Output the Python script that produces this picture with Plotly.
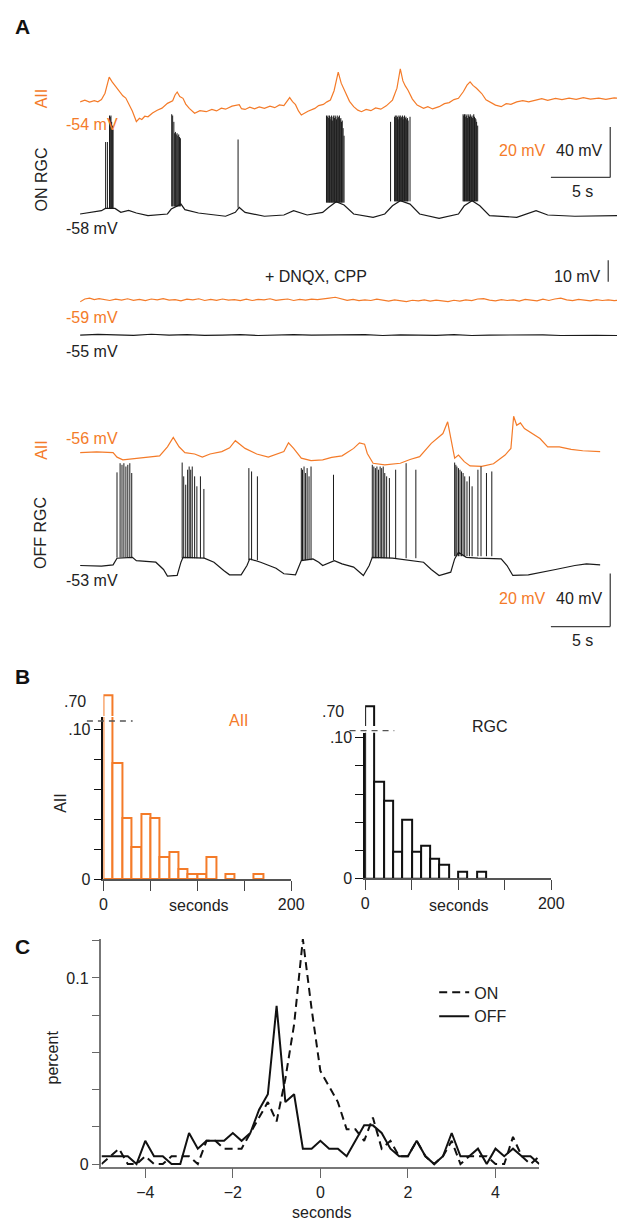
import plotly.graph_objects as go

W, H = 625, 1225
ORANGE = '#F47B29'
FONT = 'Liberation Sans, Arial, sans-serif'

# ---------------- Panel A data (time in s, membrane potential in mV) ----------------
# Control: AII amacrine (orange) and ON RGC (black)
on_aii_t = [0, 0.4, 0.8, 1.2, 1.5, 1.8, 2.1, 2.45, 2.7, 2.9, 3.1, 3.35, 3.6, 3.85, 4.09, 4.4,
            4.74, 5.0, 5.2, 5.45, 5.72, 6.1, 6.5, 6.9, 7.36, 7.8, 8.0, 8.18, 8.4, 8.67, 8.9,
            9.2, 9.65, 10.1, 10.63, 11.1, 11.5, 11.9, 12.26, 12.8, 13.41, 13.6, 13.9, 14.3,
            14.7, 15.1, 15.53, 16.0, 16.4, 16.8, 17.17, 17.45, 17.66, 17.9, 18.15, 18.4, 18.64,
            19.2, 19.78, 20.1, 20.5, 20.8, 21.09, 21.4, 21.75, 22.0, 22.2, 22.4, 22.7, 23.05,
            23.4, 23.71, 24.1, 24.5, 24.9, 25.34, 25.8, 26.32, 26.7, 26.98, 27.2, 27.4, 27.63,
            28.0, 28.4, 28.94, 29.3, 29.7, 30.25, 30.7, 31.1, 31.5, 31.88, 32.3, 32.6, 32.86,
            33.1, 33.4, 33.84, 34.2, 34.6, 35.0, 35.48, 35.9, 36.3, 36.79, 37.3, 37.8, 38.4,
            38.9, 39.4, 40.06, 40.6, 41.2, 41.8, 42.4, 43.0, 43.7, 44.3, 45.0, 45.5]
on_aii_mv = [-53.9, -53.2, -54.0, -53.4, -53.9, -53.0, -50.5, -44.1, -46.0, -47.2, -48.6,
             -49.8, -51.5, -52.4, -54.5, -57.5, -61.7, -60.4, -60.9, -59.6, -59.8, -58.3,
             -57.2, -56.4, -54.5, -53.5, -51.2, -50.0, -51.8, -52.5, -54.8, -56.5, -58.4,
             -57.4, -57.8, -56.9, -57.5, -56.4, -56.8, -55.6, -55.0, -56.6, -56.9, -56.0,
             -56.7, -55.9, -56.5, -55.6, -56.2, -55.1, -55.4, -53.5, -52.2, -53.8, -55.0,
             -57.5, -59.1, -57.6, -56.5, -55.4, -54.9, -53.9, -53.2, -49.5, -42.1, -46.5,
             -48.6, -50.6, -53.7, -55.8, -57.2, -57.8, -56.9, -57.4, -56.3, -56.8, -55.5,
             -53.2, -48.5, -40.8, -45.6, -47.6, -49.3, -52.8, -55.2, -56.5, -55.8, -56.7,
             -55.8, -54.6, -54.2, -53.0, -52.5, -49.8, -47.3, -46.0, -47.4, -48.5, -50.6,
             -53.1, -54.0, -55.2, -55.8, -54.6, -54.9, -53.9, -53.4, -53.9, -53.2, -52.6,
             -53.3, -52.5, -53.0, -52.4, -52.9, -52.2, -52.8, -52.4, -52.9, -52.3, -52.6]

on_rgc_t = [0, 1.8, 2.13, 2.94, 3.43, 4.09, 4.74, 5.72, 7.36, 7.68, 8.5, 8.83, 9.97, 12.26,
            13.08, 13.41, 13.9, 15.53, 17.17, 17.99, 19.13, 20.44, 20.93, 21.58, 22.24, 23.05,
            24.69, 25.67, 26.32, 26.98, 27.8, 28.61, 30.25, 31.88, 32.37, 33.03, 33.68, 34.5,
            36.79, 38.42, 39.4, 41.69, 45.5]
on_rgc_mv = [-58, -55.4, -53.6, -53.6, -56.7, -55.2, -57.2, -59.3, -58, -54.1, -50.2, -54.6,
             -57.2, -59.8, -56.7, -52.8, -56.7, -59.8, -58.8, -55.4, -58.8, -56.7, -52.8, -48.3,
             -50.9, -58, -60.6, -58, -51.5, -47.5, -50.2, -58, -61.4, -58, -51.5, -47.5, -51.5,
             -59.3, -60.6, -55.4, -58.8, -59.8, -59.3]

on_spk_t = [2.15, 2.3, 2.48, 2.54, 2.6, 2.66, 2.72, 2.78,
            7.72, 7.8, 7.9, 7.97, 8.03, 8.1, 8.17, 8.24, 8.31, 8.38, 8.45,
            13.31,
            20.76, 20.83, 20.89, 20.95, 21.01, 21.07, 21.13, 21.19, 21.25, 21.31, 21.37, 21.43,
            21.49, 21.55, 21.61, 21.67, 21.73, 21.79, 21.85, 21.91, 21.97, 22.03, 22.09, 22.16, 22.24,
            26.16, 26.5, 26.56, 26.62, 26.68, 26.74, 26.8, 26.86, 26.92, 26.98, 27.04, 27.1,
            27.16, 27.22, 27.28, 27.34, 27.4, 27.46, 27.52, 27.58, 27.64, 27.8,
            32.27, 32.33, 32.39, 32.45, 32.51, 32.57, 32.63, 32.69, 32.75, 32.81, 32.87,
            32.93, 32.99, 33.05, 33.11, 33.17, 33.23, 33.29, 33.35, 33.41, 33.5]
on_spk_peak = [-1, -1, 20, 19, 20, 15, 12, 9,
               21, 20, 15, 6, 7, 5, 6, 4, 5, 3, 2,
               1,
               20, 19, 20, 18, 20, 17, 19, 20, 16, 19, 20, 18,
               20, 19, 17, 20, 18, 19, 20, 17, 18, 15, 16, 10, 4,
               15, 19, 20, 18, 20, 19, 17, 20, 19, 20, 18, 19,
               20, 17, 19, 20, 18, 19, 17, 18, 16, 19,
               21, 20, 21, 19, 21, 20, 18, 21, 20, 19, 21,
               20, 19, 18, 20, 21, 19, 18, 17, 15, 12]
on_spk_base = [-54] * 8 + [-52] * 11 + [-53] + [-49] * 25 + [-48] * 22 + [-48] * 21

# + DNQX, CPP
dnqx_aii_t = [0, 0.4, 0.8, 1.2, 1.6, 2.0, 2.5, 3.0, 3.5, 4.0, 4.5, 5.0, 5.5, 6.0, 6.5, 7.0,
              7.5, 8.0, 8.5, 9.0, 9.5, 10.0, 10.5, 11.0, 11.5, 12.0, 12.5, 13.0, 13.5, 14.0,
              14.5, 15.0, 15.5, 16.0, 16.5, 17.0, 17.5, 18.0, 18.5, 19.0, 19.5, 20.0, 20.5,
              21.0, 21.5, 22.0, 22.5, 23.0, 23.5, 24.0, 24.5, 25.0, 25.5, 26.0, 26.5, 27.0,
              27.5, 28.0, 28.5, 29.0, 29.5, 30.0, 30.5, 31.0, 31.5, 32.0, 32.5, 33.0, 33.5,
              34.0, 34.5, 35.0, 35.5, 36.0, 36.5, 37.0, 37.5, 38.0, 38.5, 39.0, 39.5, 40.0,
              40.5, 41.0, 41.5, 42.0, 42.5, 43.0, 43.5, 44.0, 44.5, 45.0, 45.5]
dnqx_aii_mv = [-59.9, -58.6, -58.2, -58.9, -58.4, -58.8, -59.3, -58.7, -59.1, -58.5,
               -59.2, -58.8, -59.4, -58.6, -59.0, -58.4, -59.1, -58.9, -59.5, -58.7,
               -59.0, -58.5, -59.3, -58.8, -59.2, -58.6, -59.1, -58.9, -59.4, -58.7,
               -59.3, -58.8, -59.0, -58.5, -59.2, -58.9, -58.6, -59.3, -58.8, -59.1,
               -58.7, -58.9, -58.4, -58.2, -57.8, -58.6, -59.2, -58.8, -59.4, -59.0,
               -59.3, -58.7, -59.1, -59.6, -59.0, -59.4, -59.8, -59.2, -59.5, -59.0,
               -59.6, -59.1, -59.5, -59.8, -59.2, -59.6, -59.0, -59.4, -58.6, -58.4,
               -59.1, -59.5, -58.9, -59.3, -59.0, -59.6, -58.8, -59.2, -59.5, -58.7,
               -59.3, -58.6, -58.2, -59.0, -59.4, -58.8, -59.2, -59.5, -58.9, -59.3,
               -59.0, -59.4, -59.1]
dnqx_rgc_t = [0, 1.5, 3, 4.5, 6, 7.5, 9, 10.5, 12, 13.5, 15, 16.5, 18, 19.5, 21, 22.5, 24,
              25.5, 27, 28.5, 30, 31.5, 33, 34.5, 36, 37.5, 39, 40.5, 42, 43.5, 45.5]
dnqx_rgc_mv = [-55.0, -54.7, -54.9, -55.1, -54.6, -55.0, -54.8, -55.1, -55.0, -54.8, -55.2,
               -54.9, -54.8, -55.0, -54.9, -55.1, -54.8, -55.2, -54.9, -55.0, -55.1, -54.8,
               -55.2, -55.0, -54.9, -55.1, -54.9, -55.2, -55.0, -55.1, -55.2]

# AII (orange) and OFF RGC (black)
off_aii_t = [0, 1.4, 2.78, 3.11, 3.6, 4.3, 5.07, 5.9, 6.7, 7.36, 7.85, 8.34, 8.83, 9.65, 10.3,
             10.95, 11.94, 12.6, 13.08, 13.9, 14.88, 15.86, 16.5, 17.17, 17.56, 17.99, 18.64,
             19.46, 20.44, 21.2, 22.07, 23.05, 23.54, 23.97, 24.2, 24.69, 25.67, 26.3, 26.98,
             27.8, 28.61, 29.59, 30.57, 30.97, 31.29, 31.56, 31.88, 32.37, 32.86, 33.84,
             34.83, 35.81, 36.3, 36.53, 36.79, 37.1, 37.44, 38.1, 38.75, 39.4, 40.38, 41.37,
             42.35, 43.82]
off_aii_mv = [-56, -55.7, -56, -57.7, -58.7, -58.3, -58.1, -57.6, -57.2, -53.8, -50.3, -53.8,
              -56, -56.5, -57.7, -56.5, -55.6, -54.2, -51.5, -54.4, -56.5, -57.7, -56.8, -55.6,
              -52.3, -54.4, -58.1, -59, -58.7, -57.8, -57.2, -54.4, -52.3, -52.8, -56.3, -60,
              -60.6, -60.2, -60, -58.6, -57.5, -52.5, -48.8, -44.4, -52.5, -58.1, -56.9,
              -59.4, -61, -61.2, -60.2, -56.9, -54.4, -42.3, -45.7, -44.8, -46.9, -48.8,
              -50.7, -53.8, -53.8, -54.8, -55.3, -55.6]

off_rgc_t = [0, 1.8, 2.78, 3.11, 4.41, 4.74, 6.38, 7.03, 7.36, 8.18, 8.5, 8.67, 10.46, 11.28,
             12.1, 12.59, 13.57, 14.06, 14.29, 15.21, 16.51, 17.17, 18.15, 18.64, 19.62, 20.11,
             20.44, 21.42, 22.07, 23.05, 23.87, 24.36, 24.62, 26.32, 28.94, 29.59, 30.25, 31.23,
             31.56, 31.88, 32.54, 33.52, 35.48, 35.97, 36.46, 37.77, 40.06, 41.69, 42.67, 43.82]
off_rgc_mv = [-53, -53.5, -52.5, -47.5, -46.8, -49.3, -50.5, -56, -61, -60.5, -50.5, -46.8,
              -47.5, -50.5, -56.7, -60, -60, -53, -48, -50.5, -55, -59.2, -60, -49.3, -48, -50.5,
              -53, -49.3, -51.8, -54.2, -60.5, -53, -46.8, -47.5, -50.5, -56, -60.5, -58, -48,
              -43, -46.8, -47.5, -48, -53, -60.5, -60, -56, -53, -51.8, -52.5]

off_spk_t = [3.11, 3.37, 3.53, 3.69, 3.86, 4.02, 4.19, 4.35,
             8.6, 8.73, 8.9, 9.06, 9.19, 9.32, 9.45, 9.65, 9.84, 10.14, 10.43,
             14.22, 14.45, 14.94,
             18.64, 18.74, 18.87, 19.0, 19.13, 19.29, 19.46, 21.35,
             24.62, 24.75, 24.88, 25.01, 25.14, 25.28, 25.41, 25.54, 25.67, 25.83, 26.06,
             26.59, 27.47, 28.29,
             31.56, 31.66, 31.75, 31.88, 32.01, 32.14, 32.27, 32.41, 32.6, 32.8, 33.03,
             33.52, 33.78, 34.24, 34.69]
off_spk_peak = [17.2, 24.1, 22.9, 24.1, 21.6, 22.9, 24.1, 16.7,
                24.6, 14.2, 7.9, 19.2, 21.6, 19.2, 21.6, 14.2, 6.7, 14.2, 4.7,
                20.4, 17.9, 14.2,
                20.4, 19.2, 21.6, 16.7, 20.4, 14.2, 21.6, 15.4,
                22.9, 21.6, 20.4, 21.6, 19.2, 21.6, 20.4, 21.6, 16.7, 14.2, 12.9,
                19.2, 24.1, 19.2,
                24.6, 22.9, 21.6, 20.4, 19.2, 17.9, 16.7, 14.2, 10.4, 14.2, 6.7,
                19.2, 21.6, 16.7, 17.9]
off_spk_base = [-47] * 8 + [-47.5] * 11 + [-49] * 3 + [-49] * 8 + [-47.5] * 14 + [-46] * 15

# ---------------- Panel B data (inter-event interval histograms) ----------------
bin_centers = [5, 15, 25, 35, 45, 55, 65, 75, 85, 95, 105, 115, 125, 135, 145, 155, 165]
aii_freq = [0.70, 0.078, 0.041, 0.022, 0.044, 0.041, 0.015, 0.018, 0.007, 0.0033, 0.0033,
            0.015, 0, 0.0033, 0, 0, 0.0033]
rgc_freq = [0.70, 0.0687, 0.0551, 0.0186, 0.0416, 0.0186, 0.0233, 0.0139, 0.0094, 0, 0.0047,
            0, 0.0047, 0, 0, 0, 0]

# ---------------- Panel C data (cross-correlation) ----------------
lag_s = [-5.0, -4.8, -4.6, -4.4, -4.2, -4.0, -3.8, -3.6, -3.4, -3.2, -3.0, -2.8, -2.6, -2.4,
         -2.2, -2.0, -1.8, -1.6, -1.4, -1.2, -1.0, -0.8, -0.6, -0.4, -0.2, 0.0, 0.2, 0.4, 0.6,
         0.8, 1.0, 1.2, 1.4, 1.6, 1.8, 2.0, 2.2, 2.4, 2.6, 2.8, 3.0, 3.2, 3.4, 3.6, 3.8, 4.0,
         4.2, 4.4, 4.6, 4.8, 5.0]
on_pct = [0, 0.0042, 0.0083, 0, 0, 0.0042, 0, 0, 0.0042, 0.0042,
          0.0042, 0, 0.0125, 0.0125, 0.0083, 0.0083, 0.0083, 0.0167, 0.025, 0.0333,
          0.0229, 0.0458, 0.075, 0.1208, 0.0833, 0.05, 0.0417, 0.0333, 0.0187, 0.0187,
          0.0125, 0.025, 0.0083, 0.0125, 0.0042, 0.0042, 0.0125, 0.0042, 0, 0.0042,
          0.0125, 0, 0.0042, 0.0042, 0.0042, 0, 0, 0.0146, 0.0042, 0,
          0.0042]
off_pct = [0.0042, 0.0042, 0.0042, 0.0042, 0, 0.0125, 0.0042, 0.0042, 0, 0,
           0.0167, 0.0083, 0.0125, 0.0125, 0.0125, 0.0167, 0.0125, 0.0167, 0.0292, 0.0375,
           0.085, 0.0333, 0.0375, 0.0083, 0.0083, 0.0125, 0.0083, 0.0083, 0.0042, 0.0125,
           0.0208, 0.0208, 0.0167, 0.0083, 0.0042, 0.0042, 0.0125, 0.0042, 0, 0.0042,
           0.0167, 0.0042, 0.0042, 0.0083, 0, 0.0083, 0.0042, 0.0083, 0.0042, 0.0042,
           0]

# ---------------- figure ----------------
fig = go.Figure()
layout = {}


def ref(n):
    return ('x' if n == 1 else f'x{n}'), ('y' if n == 1 else f'y{n}')


def axes(n, left, right, top, bottom, xr, yr, xkw=None, ykw=None):
    kx = 'xaxis' if n == 1 else f'xaxis{n}'
    ky = 'yaxis' if n == 1 else f'yaxis{n}'
    xr_, yr_ = ref(n)
    base = dict(showgrid=False, zeroline=False, fixedrange=True)
    xd = dict(base, domain=[left / W, right / W], range=xr, anchor=yr_, visible=False)
    yd = dict(base, domain=[1 - bottom / H, 1 - top / H], range=yr, anchor=xr_, visible=False)
    if xkw:
        xd.update(xkw)
    if ykw:
        yd.update(ykw)
    layout[kx] = xd
    layout[ky] = yd


def yrange(top, bottom, p0, v0, k):
    return [v0 - (bottom - p0) / k, v0 + (p0 - top) / k]


T0, TS = 70, 12.2  # pixel of t=0, pixels per second
TR = [0, (625 - T0) / TS]

axes(1, 70, 625, 40, 125, TR, yrange(40, 125, 92, -54, 2.55))
axes(2, 70, 625, 95, 215, TR, yrange(95, 215, 205, -58, 1.275))
axes(3, 70, 625, 245, 305, TR, yrange(245, 305, 291.7, -59, 2.16))
axes(4, 70, 625, 315, 340, TR, yrange(315, 340, 327.3, -55, 2.16))
axes(5, 70, 625, 395, 470, TR, yrange(395, 470, 446, -56, 2.68))
axes(6, 70, 625, 440, 630, TR, yrange(440, 630, 560, -53, 1.34))


def spikes(ts, peaks, bases):
    xs, ys = [], []
    for t, p, b in zip(ts, peaks, bases):
        xs += [t, t, None]
        ys += [b, p, None]
    return xs, ys


def line(n, x, y, color, width=1.0, **kw):
    xr_, yr_ = ref(n)
    fig.add_trace(go.Scatter(x=x, y=y, mode='lines', xaxis=xr_, yaxis=yr_,
                             line=dict(color=color, width=width), showlegend=False,
                             hoverinfo='skip', **kw))


line(1, on_aii_t, on_aii_mv, ORANGE, 1.2)
line(2, on_rgc_t, on_rgc_mv, '#1a1a1a', 1.2)
sx, sy = spikes(on_spk_t, on_spk_peak, on_spk_base)
line(2, sx, sy, '#1a1a1a', 1.0)
line(3, dnqx_aii_t, dnqx_aii_mv, ORANGE, 1.2)
line(4, dnqx_rgc_t, dnqx_rgc_mv, '#1a1a1a', 1.2)
line(5, off_aii_t, off_aii_mv, ORANGE, 1.2)
line(6, off_rgc_t, off_rgc_mv, '#1a1a1a', 1.2)
sx, sy = spikes(off_spk_t, off_spk_peak, off_spk_base)
line(6, sx, sy, '#1a1a1a', 1.0)

shapes = []


def scalebar(n, t0, t1, v0, v1):
    xr_, yr_ = ref(n)
    if t1 != t0:
        shapes.append(dict(type='line', xref=xr_, yref=yr_, x0=t0, x1=t1, y0=v0, y1=v0,
                           line=dict(color='#444', width=1.3)))
    if v1 != v0:
        shapes.append(dict(type='line', xref=xr_, yref=yr_, x0=t1, x1=t1, y0=v0, y1=v1,
                           line=dict(color='#444', width=1.3)))


scalebar(2, 39.67, 44.67, -29, 11)       # 5 s / 40 mV
scalebar(3, 44.5, 44.5, -50.5, -40.5)    # 10 mV
scalebar(6, 39.67, 44.67, -99, -59)      # 5 s / 40 mV

# ---------------- Panel B axes ----------------
tickfont = dict(size=16, color='#222', family=FONT)
yb = dict(visible=True, showline=True, linecolor='#111', linewidth=1.5, ticks='outside',
          ticklen=8, tickwidth=1.3, tickcolor='#111',
          tickvals=[0, 0.02, 0.04, 0.06, 0.08, 0.10],
          ticktext=['0', '', '', '', '', '.10'], tickfont=tickfont)
xb = dict(visible=True, showline=True, linecolor='#555', linewidth=1.5, ticks='outside',
          ticklen=10, tickwidth=1.3, tickcolor='#444',
          tickvals=[0, 50, 100, 150, 200], ticktext=['0', '', '', '', '200'], tickfont=tickfont)

axes(7, 94, 287, 713, 877, [0, 200], [0, (877 - 713) / 1510], xkw=xb, ykw=yb)
axes(8, 94, 287, 689, 712, [0, 200], [0.70 - 21 / 1000, 0.70 + 2 / 1000])
axes(9, 363, 554.3, 729, 876, [0, 200], [0, (876 - 729) / 1420], xkw=xb, ykw=yb)
axes(10, 363, 554.3, 700, 722, [0, 200], [0.70 - 19.7 / 1000, 0.70 + 2.3 / 1000])


def nz(v):
    return [None if a == 0 else a for a in v]


for n, vals, col in [(7, aii_freq, ORANGE), (8, aii_freq, ORANGE),
                     (9, rgc_freq, '#111'), (10, rgc_freq, '#111')]:
    xr_, yr_ = ref(n)
    fig.add_trace(go.Bar(x=bin_centers, y=nz(vals), width=10, xaxis=xr_, yaxis=yr_,
                         marker=dict(color='white', line=dict(color=col, width=2)),
                         showlegend=False, hoverinfo='skip'))

# axis-break dashes
for x0, x1, y in [(77, 124, 717), (347, 393, 726.7)]:
    shapes.append(dict(type='line', xref='paper', yref='paper', x0=x0 / W, x1=x1 / W,
                       y0=1 - y / H, y1=1 - y / H,
                       line=dict(color='#555', width=1.3, dash='6px,5px')))

# ---------------- Panel C ----------------
xc = dict(visible=True, showline=True, linecolor='#777', linewidth=1.5, ticks='outside',
          ticklen=10, tickwidth=1.3, tickcolor='#666', tickvals=[-4, -2, 0, 2, 4],
          tickfont=tickfont)
yc = dict(visible=True, showline=True, linecolor='#777', linewidth=1.5, ticks='outside',
          ticklen=8, tickwidth=1.3, tickcolor='#666',
          tickvals=[0, 0.02, 0.04, 0.06, 0.08, 0.10, 0.12],
          ticktext=['0', '', '', '', '', '0.1', ''], tickfont=tickfont)
axes(11, 92, 542, 937, 1167, [-5, 5], yrange(937, 1167, 1164.5, 0, 1880), xkw=xc, ykw=yc)

fig.add_trace(go.Scatter(x=lag_s, y=on_pct, mode='lines', name='ON', xaxis='x11', yaxis='y11',
                         line=dict(color='#111', width=2, dash='8px,5px'), cliponaxis=False,
                         hoverinfo='skip'))
fig.add_trace(go.Scatter(x=lag_s, y=off_pct, mode='lines', name='OFF', xaxis='x11',
                         yaxis='y11', line=dict(color='#111', width=2), cliponaxis=False,
                         hoverinfo='skip'))

# ---------------- text ----------------
anns = []


def ann(text, x, y, color='#222', size=16, angle=0, bold=False, xanchor='center'):
    anns.append(dict(text=f'<b>{text}</b>' if bold else text, x=x / W, y=1 - y / H,
                     xref='paper', yref='paper', showarrow=False, textangle=angle,
                     xanchor=xanchor, yanchor='middle',
                     font=dict(family=FONT, size=size, color=color)))


ann('A', 11, 16, '#111', 21, bold=True)
ann('AII', 30, 88, ORANGE, 16, -90)
ann('-54 mV', 82, 115, ORANGE)
ann('ON RGC', 30, 170, '#222', 16, -90)
ann('-58 mV', 82, 220)
ann('20 mV', 525, 141, ORANGE)
ann('40 mV', 583, 141)
ann('5 s', 586, 182)
ann('+ DNQX, CPP', 313, 268)
ann('10 mV', 581, 268)
ann('-59 mV', 82, 310, ORANGE)
ann('-55 mV', 82, 344)
ann('AII', 30, 443, ORANGE, 16, -90)
ann('-56 mV', 82, 432, ORANGE)
ann('OFF RGC', 30, 527, '#222', 16, -90)
ann('-53 mV', 82, 575)
ann('20 mV', 525, 593, ORANGE)
ann('40 mV', 583, 593)
ann('5 s', 586, 636)

ann('B', 11, 672, '#111', 21, bold=True)
ann('.70', 65, 697)
ann('.70', 330, 707)
ann('AII', 233, 717, ORANGE)
ann('RGC', 491, 723)
ann('AII', 50, 800, '#222', 16, -90)
ann('seconds', 192, 903)
ann('seconds', 459, 903)

ann('C', 11, 945, '#111', 21, bold=True)
ann('percent', 42, 1057, '#222', 16, -90)
ann('seconds', 319, 1213)

fig.update_layout(
    **layout,
    width=W, height=H,
    margin=dict(l=0, r=0, t=0, b=0),
    paper_bgcolor='white', plot_bgcolor='rgba(0,0,0,0)',
    font=dict(family=FONT, size=16, color='#222'),
    shapes=shapes, annotations=anns,
    bargap=0,
    showlegend=True,
    legend=dict(x=434 / W, y=1 - 974 / H, xanchor='left', yanchor='top',
                bgcolor='rgba(0,0,0,0)', font=dict(size=16, family=FONT, color='#222'),
                itemwidth=30, tracegroupgap=0),
)

fig.write_html('out.html')
